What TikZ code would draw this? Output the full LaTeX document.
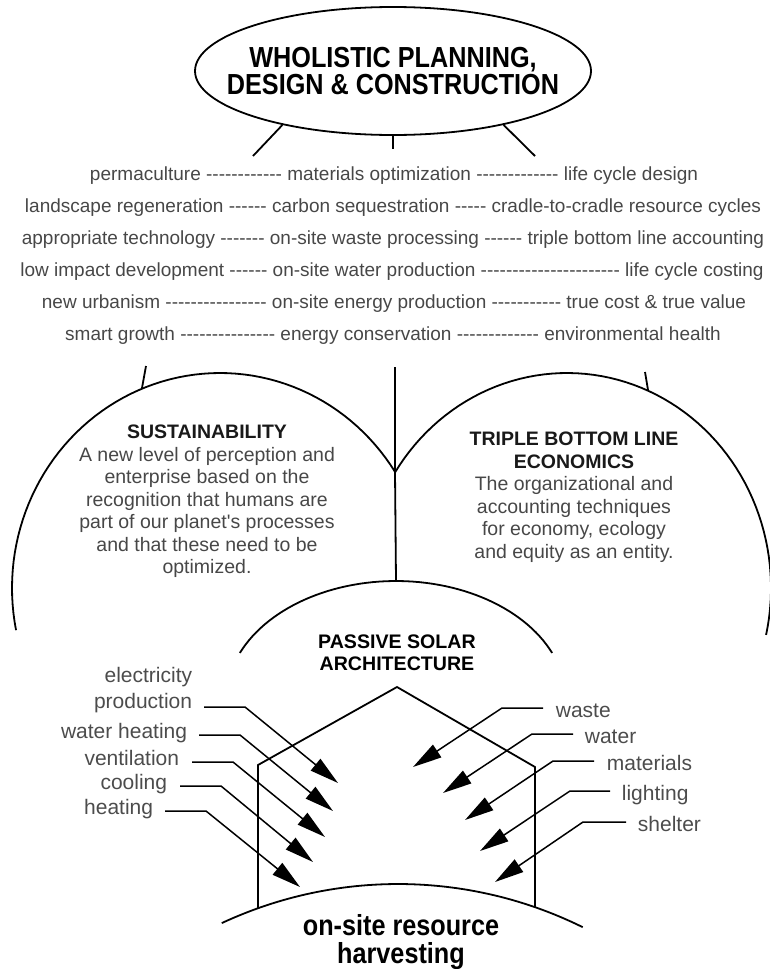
\documentclass[tikz,border=0pt]{standalone}
\usepackage{fontspec}
\setmainfont{Liberation Sans}[Ligatures=TeXOff]
\newfontfamily\narrowfont{Liberation Sans}[FakeStretch=0.87,Ligatures=TeXOff]
\usepackage{tikz}
\usetikzlibrary{arrows.meta,positioning,shapes.geometric}
\newcommand\dashrun[1]{\foreach\dd in {1,...,#1}{-\kern0pt}}

\begin{document}
\begin{tikzpicture}[x=1pt,y=-1pt,>=Latex,line width=1.8pt]
  \tikzstyle{listline}=[font=\fontsize{19}{22}\selectfont,text=black!72,anchor=base,inner sep=0pt]
  \tikzstyle{headline}=[font=\narrowfont\bfseries\fontsize{29}{27.5}\selectfont,align=center,inner sep=0pt]
  \tikzstyle{lobe}=[font=\fontsize{19.5}{22.5}\selectfont,text=black!72,align=center,inner sep=0pt,anchor=north]
  \tikzstyle{flowlabel}=[font=\fontsize{21}{26}\selectfont,text=black!70,inner sep=0pt]
  \tikzstyle{flow}=[line width=1.5pt,-{Triangle[length=29pt,width=15pt]}]
  \useasboundingbox (0,0) rectangle (770,969);

  \node[draw,ellipse,minimum width=396pt,minimum height=128pt,inner sep=0pt] (wholistic) at (393,71) {};
  \node[headline,anchor=north] (wholtitle) at (393,46) {WHOLISTIC PLANNING,\\DESIGN \& CONSTRUCTION};
  \coordinate (tickL) at (253,156);
  \coordinate (tickM) at (393,149);
  \coordinate (tickR) at (535,156);
  \draw (wholistic.206) -- (tickL);
  \draw (wholistic.south) -- (tickM);
  \draw (wholistic.334) -- (tickR);

  \node[listline] (lst1) at (394,180) {permaculture \dashrun{12} materials optimization \dashrun{13} life cycle design};
  \node[listline] (lst2) at (393,212) {landscape regeneration \dashrun{6} carbon sequestration \dashrun{5} cradle-to-cradle resource cycles};
  \node[listline] (lst3) at (393,244) {appropriate technology \dashrun{7} on-site waste processing \dashrun{6} triple bottom line accounting};
  \node[listline] (lst4) at (392,276) {low impact development \dashrun{6} on-site water production \dashrun{22} life cycle costing};
  \node[listline] (lst5) at (394,308) {new urbanism \dashrun{16} on-site energy production \dashrun{11} true cost \& true value};
  \node[listline] (lst6) at (393,340) {smart growth \dashrun{15} energy conservation \dashrun{13} environmental health};

  \coordinate (vee) at (395,472);
  \coordinate (stemtop) at (395,367);
  \coordinate (passtop) at (396,581);
  \draw plot[domain=191.3:32.7,samples=70] ({220+208*cos(\x)},{588-215*sin(\x)});
  \draw plot[domain=147.5:-12.6,samples=70] ({567+204*cos(\x)},{588-215*sin(\x)});
  \draw (stemtop) -- (vee) -- (passtop);
  \coordinate (sustick) at (146,366);
  \coordinate (sustarc) at (142,388);
  \coordinate (tbltick) at (645,372);
  \coordinate (tblarc) at (648,390);
  \draw (sustick) -- (sustarc);
  \draw (tbltick) -- (tblarc);

  \node[lobe] (sustain) at (207,424) {{\bfseries\color{black!90}SUSTAINABILITY}\\A new level of perception and\\enterprise based on the\\recognition that humans are\\part of our planet's processes\\and that these need to be\\optimized.};
  \node[lobe] (tbl) at (574,431) {{\bfseries\color{black!90}TRIPLE BOTTOM LINE}\\{\bfseries\color{black!90}ECONOMICS}\\The organizational and\\accounting techniques\\for economy, ecology\\and equity as an entity.};

  \draw plot[domain=156.7:23.3,samples=60] ({396+170*cos(\x)},{700-119*sin(\x)});
  \node[font=\bfseries\fontsize{19.6}{21.5}\selectfont,align=center,inner sep=0pt,anchor=north] (passive) at (397,634) {PASSIVE SOLAR\\ARCHITECTURE};

  \coordinate (wallL) at (258,908);
  \coordinate (eaveL) at (258,765);
  \coordinate (apex) at (397,687);
  \coordinate (eaveR) at (535,767);
  \coordinate (wallR) at (535,907);
  \draw[line join=miter] (wallL) -- (eaveL) -- (apex) -- (eaveR) -- (wallR);
  \draw plot[domain=115:63.7,samples=60] ({398+417*cos(\x)},{1301-417*sin(\x)});
  \node[headline,anchor=north] (harvest) at (401,914) {on-site resource\\harvesting};

  \node[flowlabel,align=right,anchor=south east] (elecprod) at (193,714) {electricity\\production};
  \node[flowlabel,anchor=base east] (waterheat) at (188,738) {water heating};
  \node[flowlabel,anchor=base east] (vent) at (180,765) {ventilation};
  \node[flowlabel,anchor=base east] (cool) at (168,789) {cooling};
  \node[flowlabel,anchor=base east] (heat) at (154,814) {heating};
  \coordinate (tipelec) at (338,783);
  \coordinate (tipwh) at (333,811);
  \coordinate (tipvent) at (325,837);
  \coordinate (tipcool) at (313,862);
  \coordinate (tipheat) at (300,887);
  \draw[flow] ([shift={(11,-7)}]elecprod.south east) -- ++(41,0) -- (tipelec);
  \draw[flow] ([shift={(11,-3)}]waterheat.base east) -- ++(41,0) -- (tipwh);
  \draw[flow] ([shift={(12,-3)}]vent.base east) -- ++(41,0) -- (tipvent);
  \draw[flow] ([shift={(12,-3)}]cool.base east) -- ++(41,0) -- (tipcool);
  \draw[flow] ([shift={(11,-3)}]heat.base east) -- ++(41,0) -- (tipheat);

  \node[flowlabel,anchor=base west] (waste) at (555,717) {waste};
  \node[flowlabel,anchor=base west] (water) at (584,743) {water};
  \node[flowlabel,anchor=base west] (mater) at (606,770) {materials};
  \node[flowlabel,anchor=base west] (light) at (621,800) {lighting};
  \node[flowlabel,anchor=base west] (shelter) at (637,831) {shelter};
  \coordinate (tipwaste) at (413,767);
  \coordinate (tipwater) at (443,793);
  \coordinate (tipmater) at (465,820);
  \coordinate (tiplight) at (480,851);
  \coordinate (tipshelter) at (495,882);
  \draw[flow] ([shift={(-12,-9)}]waste.base west) -- ++(-41,0) -- (tipwaste);
  \draw[flow] ([shift={(-11,-9)}]water.base west) -- ++(-41,0) -- (tipwater);
  \draw[flow] ([shift={(-12,-9)}]mater.base west) -- ++(-41,0) -- (tipmater);
  \draw[flow] ([shift={(-11,-9)}]light.base west) -- ++(-40,0) -- (tiplight);
  \draw[flow] ([shift={(-11,-9)}]shelter.base west) -- ++(-43,0) -- (tipshelter);
\end{tikzpicture}
\end{document}
